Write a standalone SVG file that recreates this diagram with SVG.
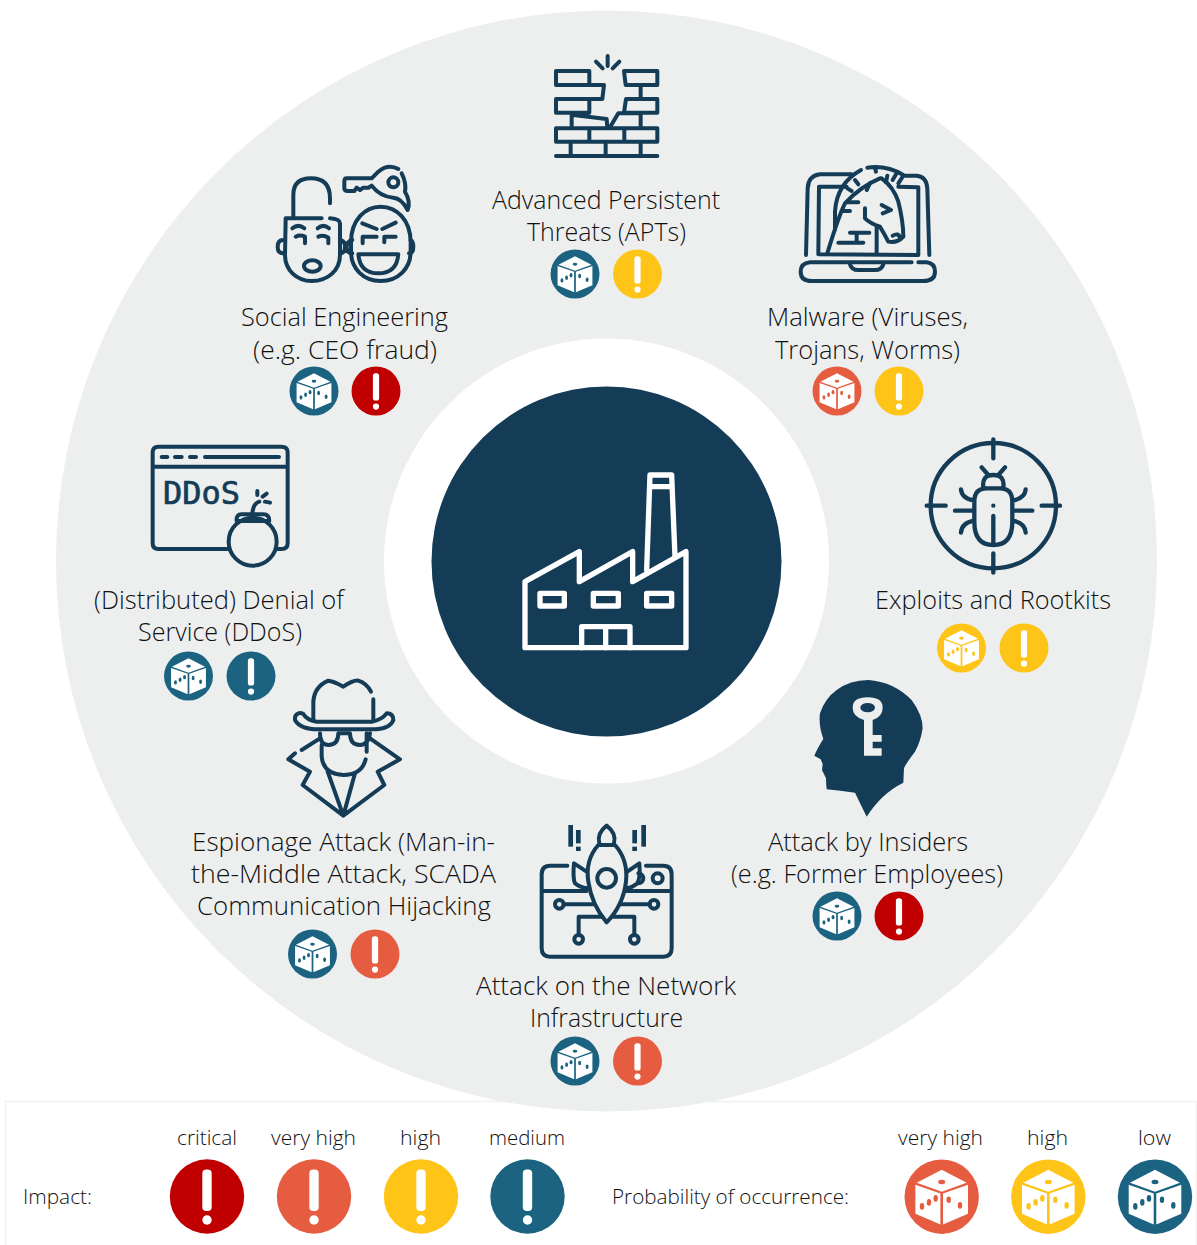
<svg xmlns="http://www.w3.org/2000/svg" width="1197" height="1245" viewBox="0 0 1197 1245">
<style>
text{font-family:"Open Sans","Noto Sans","Liberation Sans",sans-serif;font-weight:300;fill:#111}
.l{font-size:25px;text-anchor:middle}
.s{font-size:21px;text-anchor:middle}
.k{font-size:21px}
.i{fill:none;stroke:#143c57;stroke-width:12;stroke-linecap:round;stroke-linejoin:round}
.red{fill:#c00000}.org{fill:#e55c40}.yel{fill:#ffc418}.blu{fill:#1b6380}
</style>
<defs>
<g id="die">
<path fill="#fff" d="M0-27 25-14 0-5-25-14ZM-26.300-12-1.300-3.300V27.700L-26.300 17ZM1.300-3.300 26.300-12V17L1.300 27.700Z"/>
</g>
<g id="excl" fill="#fff">
<rect x="-4.700" y="-27" width="9.400" height="41.500" rx="4"/>
<circle cx="0" cy="23.500" r="4.700"/>
</g>
<g id="pips">
<ellipse cx="0" cy="-14.700" rx="3.500" ry="2.200"/>
<ellipse cx="-19.700" cy="9.700" rx="2.200" ry="3.300"/>
<ellipse cx="-12.700" cy="5.700" rx="2.200" ry="3.300"/>
<ellipse cx="-6" cy="1.700" rx="2.200" ry="3.300"/>
<ellipse cx="7" cy="3" rx="2.200" ry="3.300"/>
<ellipse cx="18.300" cy="8.700" rx="2.200" ry="3.300"/>
</g>
</defs>
<rect width="1197" height="1245" fill="#fff"/>
<rect id="legend-box" x="5.500" y="1101.500" width="1191" height="150" fill="#fff" stroke="#f0f1f1" stroke-width="1.500"/>
<g id="ring">
<circle cx="606.500" cy="561" r="550.500" fill="#edefef"/>
<circle cx="606.500" cy="561" r="222.500" fill="#fff"/>
</g>
<g id="connectors"></g>
<g id="center">
<circle cx="606.500" cy="561.500" r="175" fill="#143c57"/>
<g transform="translate(500 455) scale(.3333)" fill="none" stroke="#fff" stroke-width="16" stroke-linejoin="round" stroke-linecap="round">
<path d="M75 380 238 290V380L398 290V380L558 290V578H75Z"/>
<path d="M440 345 450 60H515L525 305M450 95H515"/>
<rect x="120" y="415" width="73" height="38"/><rect x="280" y="415" width="75" height="38"/><rect x="440" y="415" width="75" height="38"/>
<path d="M245 578V515H390V578M317 515V578"/>
</g>
</g>

<g id="apt">
<g class="i" transform="translate(530 40) scale(.3333)">
<path d="M78 93H178V135H78ZM282 93H382V135H287ZM125 135H222L217 177H125M78 177H178V218H78ZM288 177H382V218H282ZM125 218V265M332 135V177M332 218V265M130 225 230 237 232 262M240 262 265 220H330M78 265H382V305H78ZM178 265V305M283 265V305M122 305V348M227 305V348M332 305V348M78 348H382M233 48V78M198 65 218 85M268 65 248 85"/>
</g>
<text class="l" x="606" y="209" textLength="228" lengthAdjust="spacingAndGlyphs">Advanced Persistent</text>
<text class="l" x="606.500" y="241" textLength="159" lengthAdjust="spacingAndGlyphs">Threats (APTs)</text>
<g transform="translate(575 274) scale(.662)"><circle r="37" class="blu"/><use href="#die"/><use href="#pips" class="blu"/></g>
<g transform="translate(637.500 274) scale(.662)"><circle r="37" class="yel"/><use href="#excl"/></g>
</g>

<g id="malware">
<g class="i" transform="translate(790 155) scale(.3333)">
<path d="M185 58H90Q55 62 53 100L48 300M345 62H380Q410 65 412 100L418 300M170 95H87L85 298 385 300 385 97 325 95M365 322H60Q32 325 32 350 32 378 65 378H400Q435 378 435 350 435 325 410 322H385M180 328Q185 345 205 345H255Q275 345 280 328"/>
<path d="M213 45Q140 85 135 170V225M270 70Q210 95 165 145 145 185 112 295M232 38Q290 30 340 60M255 38 258 50M195 75 205 88M172 100 185 108M292 62 288 82M320 55 308 75M340 62 325 85"/>
<path d="M275 70Q310 95 325 140 340 200 340 245 322 265 295 260 285 240 270 215 240 205 225 190L225 160M260 215V295M275 150 303 165 278 175M172 142H205M160 168H180M180 233H238M200 233V263M145 263H220M230 105 240 85M308 242Q325 232 330 248"/>
</g>
<text class="l" x="867.500" y="326" textLength="201" lengthAdjust="spacingAndGlyphs">Malware (Viruses,</text>
<text class="l" x="867.500" y="359" textLength="185" lengthAdjust="spacingAndGlyphs">Trojans, Worms)</text>
<g transform="translate(837 391) scale(.662)"><circle r="37" class="org"/><use href="#die"/><use href="#pips" class="org"/></g>
<g transform="translate(899 391) scale(.662)"><circle r="37" class="yel"/><use href="#excl"/></g>
</g>

<g id="social">
<g class="i" transform="translate(265 155) scale(.3333)">
<path d="M85 190V120Q85 70 138 70 195 70 195 130V145M170 190H62L60 300C60 345 95 378 140 378 190 378 225 345 225 300V205Q225 192 195 190"/>
<path d="M55 255Q38 255 38 275 38 295 55 295M225 255Q242 260 240 275 240 295 225 295M262 255Q245 260 245 275 245 295 262 295M437 255Q445 260 445 275 445 295 432 295"/>
<path d="M82 220Q100 205 118 220M158 220Q175 205 192 220M92 245Q105 238 120 245V265M160 245Q175 238 190 248V265"/>
<ellipse cx="142" cy="333" rx="25" ry="17"/>
<path d="M258 262C258 195 300 155 347 155 395 155 437 195 437 262V290C437 340 400 378 347 378 295 378 258 340 258 290Z"/>
<path d="M292 205 335 222M392 203 352 222M293 265V245H335M358 262V245H392M280 298H400Q395 355 340 355 285 355 280 298Z"/>
<circle cx="385" cy="82" r="15"/>
<path d="M400 42Q370 25 340 50L320 70H245Q238 70 238 80V100Q238 108 248 108H268L275 98 285 105 295 98H310L320 92Q345 125 385 128 410 130 428 165 438 140 420 110 425 85 410 55"/>
</g>
<text class="l" x="344.500" y="326" textLength="207" lengthAdjust="spacingAndGlyphs">Social Engineering</text>
<text class="l" x="345" y="359" textLength="184" lengthAdjust="spacingAndGlyphs">(e.g. CEO fraud)</text>
<g transform="translate(314 391) scale(.662)"><circle r="37" class="blu"/><use href="#die"/><use href="#pips" class="blu"/></g>
<g transform="translate(376 391) scale(.662)"><circle r="37" class="red"/><use href="#excl"/></g>
</g>

<g id="exploits">
<g class="i" style="stroke-width:13" transform="translate(915 430) scale(.3333)">
<circle cx="235" cy="227" r="188"/>
<path d="M235 28V85M235 370V428M35 227H92M380 227H435M178 215Q178 175 215 175H255Q292 175 292 215V275Q292 345 235 345 178 345 178 275ZM205 172Q200 135 235 135 270 135 265 172M200 112 220 135M270 112 250 135M235 258V340M120 242H178M295 242H352M138 178Q140 205 178 212M332 178Q330 205 292 212M138 308Q140 278 178 272M332 308Q330 278 292 272M235 227V227.100"/>
</g>
<text class="l" x="993" y="609" textLength="236" lengthAdjust="spacingAndGlyphs">Exploits and Rootkits</text>
<g transform="translate(961.500 648) scale(.662)"><circle r="37" class="yel"/><use href="#die"/><use href="#pips" class="yel"/></g>
<g transform="translate(1024 648) scale(.662)"><circle r="37" class="yel"/><use href="#excl"/></g>
</g>

<g id="ddos">
<g class="i" transform="translate(140 435) scale(.3333)">
<path d="M265 342H55Q38 342 38 325V52Q38 35 55 35H425Q443 35 443 52V325Q443 342 425 342H412M38 95H443M65 66H82M105 66H125M150 66H168M195 66H417"/>
<circle cx="338" cy="320" r="72"/>
<path d="M290 258Q288 238 305 238H370Q388 238 388 258ZM337 235Q340 205 358 200M352 168V180M368 185 380 176M375 200 390 203"/>
</g>
<text x="163" y="503.500" textLength="77" lengthAdjust="spacingAndGlyphs" style="font-family:'DejaVu Sans Mono','Liberation Mono',monospace;font-size:31.500px;font-weight:400;fill:#143c57;stroke:#143c57;stroke-width:.7">DDoS</text>
<text class="l" x="219" y="609" textLength="250" lengthAdjust="spacingAndGlyphs">(Distributed) Denial of</text>
<text class="l" x="220" y="641" textLength="164" lengthAdjust="spacingAndGlyphs">Service (DDoS)</text>
<g transform="translate(188.500 676) scale(.662)"><circle r="37" class="blu"/><use href="#die"/><use href="#pips" class="blu"/></g>
<g transform="translate(251 676) scale(.662)"><circle r="37" class="blu"/><use href="#excl"/></g>
</g>

<g id="espionage">
<g class="i" transform="translate(275 670) scale(.3333)">
<path d="M115 150V95Q118 50 160 32 180 35 205 50 235 30 250 32 275 40 288 65M295 88V150"/>
<path d="M70 130Q58 135 60 150 75 178 130 178H290Q345 178 355 150 355 130 335 130 320 150 290 155H125Q95 150 85 132 78 128 70 130Z"/>
<path d="M135 190Q135 225 160 225 190 225 190 190M225 190Q225 225 255 225 280 225 285 190M190 190H225M275 190V245M140 225V260Q145 312 205 315 260 315 272 268"/>
<path d="M135 205 80 240M60 250 40 268 105 305 83 345 205 437 328 345 308 305 375 268 285 205M158 305 205 437 240 310"/>
</g>
<text class="l" x="343.500" y="851" textLength="303" lengthAdjust="spacingAndGlyphs">Espionage Attack (Man-in-</text>
<text class="l" x="343.500" y="883" textLength="305" lengthAdjust="spacingAndGlyphs">the-Middle Attack, SCADA</text>
<text class="l" x="344" y="915" textLength="294" lengthAdjust="spacingAndGlyphs">Communication Hijacking</text>
<g transform="translate(312.500 954) scale(.662)"><circle r="37" class="blu"/><use href="#die"/><use href="#pips" class="blu"/></g>
<g transform="translate(375 954) scale(.662)"><circle r="37" class="org"/><use href="#excl"/></g>
</g>

<g id="network">
<g class="i" transform="translate(530 815) scale(.3333)">
<path d="M112 152H60Q35 152 35 178V400Q35 425 60 425H400Q425 425 425 400V178Q425 152 400 152H348M38 228H170M290 228H425"/>
<path d="M325 175A15 15 0 1 1 325 205"/>
<circle cx="383" cy="190" r="15"/>
<circle cx="88" cy="268" r="13"/><circle cx="372" cy="268" r="13"/><circle cx="146" cy="373" r="13"/><circle cx="313" cy="373" r="13"/>
<path d="M101 268H190M272 268H359M146 360V305H215M313 360V305H250"/>
<path d="M205 90Q165 135 175 200 185 270 230 322 280 270 288 200 295 135 255 90ZM208 85Q200 55 230 32 260 55 252 85"/>
<circle cx="230" cy="190" r="28"/>
<path d="M170 170 132 145Q128 190 135 205 150 218 172 220M292 170 328 145Q332 190 322 205 305 218 290 220"/>
</g>
<g fill="#143c57" transform="translate(530 815) scale(.3333)">
<rect x="115" y="30" width="14" height="65"/><rect x="138" y="45" width="14" height="40"/><rect x="138" y="95" width="14" height="13"/>
<rect x="334" y="30" width="14" height="65"/><rect x="307" y="45" width="14" height="40"/><rect x="307" y="95" width="14" height="13"/>
</g>
<text class="l" x="606" y="995" textLength="260" lengthAdjust="spacingAndGlyphs">Attack on the Network</text>
<text class="l" x="606.500" y="1027" textLength="153" lengthAdjust="spacingAndGlyphs">Infrastructure</text>
<g transform="translate(575 1061) scale(.662)"><circle r="37" class="blu"/><use href="#die"/><use href="#pips" class="blu"/></g>
<g transform="translate(637.500 1061) scale(.662)"><circle r="37" class="org"/><use href="#excl"/></g>
</g>

<g id="insiders">
<g transform="translate(800 670) scale(.3333)">
<path fill="#143c57" d="M200 440 165 368Q120 362 80 358 78 340 78 325L66 300 68 282 62 268 43 257Q52 235 70 207 55 165 60 130 75 85 110 60 150 30 205 30 280 35 335 90 368 135 368 175 362 215 345 245 318 280 312 295L310 338Q245 370 200 440Z"/>
<path fill="#edefef" d="M192 150Q158 140 158 113 158 82 203 82 248 82 248 113 248 140 218 150V195H245V215H218V235H245V257H192Z"/>
<ellipse cx="203" cy="113" rx="22" ry="14" fill="#143c57"/>
</g>
<text class="l" x="868" y="851" textLength="200" lengthAdjust="spacingAndGlyphs">Attack by Insiders</text>
<text class="l" x="867" y="883" textLength="272" lengthAdjust="spacingAndGlyphs">(e.g. Former Employees)</text>
<g transform="translate(837 916) scale(.662)"><circle r="37" class="blu"/><use href="#die"/><use href="#pips" class="blu"/></g>
<g transform="translate(899 916) scale(.662)"><circle r="37" class="red"/><use href="#excl"/></g>
</g>

<g id="legend">
<text class="k" x="23" y="1204" textLength="69" lengthAdjust="spacingAndGlyphs">Impact:</text>
<text class="s" x="207" y="1145" textLength="60" lengthAdjust="spacingAndGlyphs">critical</text>
<text class="s" x="313.500" y="1145" textLength="85" lengthAdjust="spacingAndGlyphs">very high</text>
<text class="s" x="420.500" y="1145" textLength="41" lengthAdjust="spacingAndGlyphs">high</text>
<text class="s" x="527" y="1145" textLength="76" lengthAdjust="spacingAndGlyphs">medium</text>
<g transform="translate(207 1196.500)"><circle r="37.200" class="red"/><use href="#excl"/></g>
<g transform="translate(314 1196.500)"><circle r="37.200" class="org"/><use href="#excl"/></g>
<g transform="translate(421 1196.500)"><circle r="37.200" class="yel"/><use href="#excl"/></g>
<g transform="translate(527.500 1196.500)"><circle r="37.200" class="blu"/><use href="#excl"/></g>
<text class="k" x="612" y="1204" textLength="237" lengthAdjust="spacingAndGlyphs">Probability of occurrence:</text>
<text class="s" x="940.500" y="1145" textLength="85" lengthAdjust="spacingAndGlyphs">very high</text>
<text class="s" x="1047.500" y="1145" textLength="41" lengthAdjust="spacingAndGlyphs">high</text>
<text class="s" x="1154.500" y="1145" textLength="33" lengthAdjust="spacingAndGlyphs">low</text>
<g transform="translate(941.700 1196.700)"><circle r="37.200" class="org"/><use href="#die"/><use href="#pips" class="org"/></g>
<g transform="translate(1048.300 1196.700)"><circle r="37.200" class="yel"/><use href="#die"/><use href="#pips" class="yel"/></g>
<g transform="translate(1155 1196.700)"><circle r="37.200" class="blu"/><use href="#die"/><use href="#pips" class="blu"/></g>
</g>
</svg>
